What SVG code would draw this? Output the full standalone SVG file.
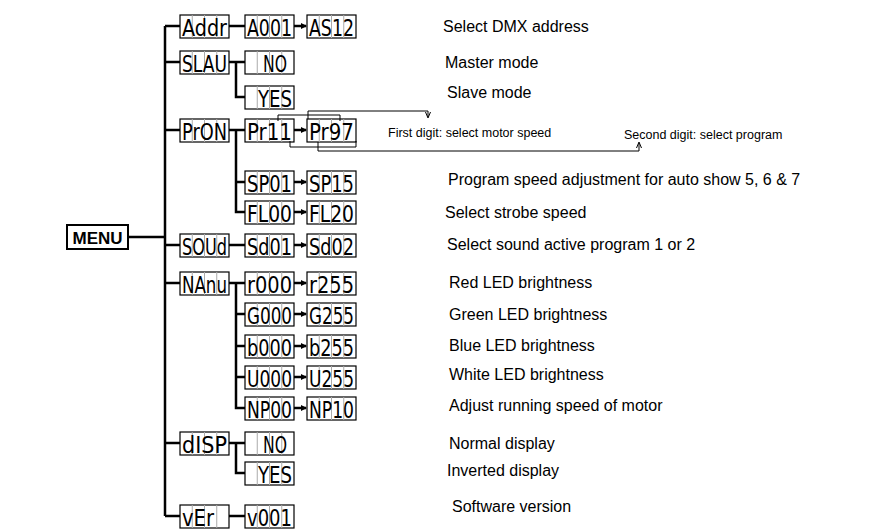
<svg xmlns="http://www.w3.org/2000/svg" width="878" height="532" viewBox="0 0 878 532">
<style>
.b text{font-family:"DejaVu Sans Condensed","DejaVu Sans",sans-serif;font-weight:normal;font-size:23px;text-anchor:middle}
.c{stroke:#000;stroke-width:2.5;fill:none}
.t{stroke:#000;stroke-width:1;fill:none}
.l{font-family:"Liberation Sans",Arial,sans-serif;font-size:16px}
.s{font-family:"Liberation Sans",Arial,sans-serif;font-size:12.5px}
</style>
<defs>
<marker id="a" markerWidth="6" markerHeight="6" refX="5" refY="3" orient="auto" markerUnits="userSpaceOnUse"><path d="M0,0L6,3L0,6z"/></marker>
<marker id="sa" markerWidth="6" markerHeight="6" refX="5" refY="3" orient="auto" markerUnits="userSpaceOnUse"><path d="M0,0.5L6,3L0,5.5" fill="none" stroke="#000"/></marker>
<symbol id="cells" overflow="visible"><rect x="0" y="0" width="49" height="23" fill="#fff" stroke="#000" stroke-width="1.2"/><path d="M12.25,0V23M24.5,0V23M36.75,0V23" stroke="#aaa" stroke-width="1"/></symbol>
</defs>
<g id="menu"><rect x="67" y="225" width="61" height="24" fill="#fff" stroke="#000" stroke-width="2"/><text x="97.5" y="244" font-family="Liberation Sans,Arial,sans-serif" font-weight="bold" font-size="17" text-anchor="middle">MENU</text></g>
<g class="b">
<g id="addr" transform="translate(180,15)"><use href="#cells"/><text x="24.5" y="20.5" textLength="45" lengthAdjust="spacingAndGlyphs">Addr</text></g>
<g id="a001" transform="translate(245,15)"><use href="#cells"/><text x="24.5" y="20.5" textLength="45" lengthAdjust="spacingAndGlyphs">A001</text></g>
<g id="as12" transform="translate(307,15)"><use href="#cells"/><text x="24.5" y="20.5" textLength="45" lengthAdjust="spacingAndGlyphs">AS12</text></g>
<g id="slau" transform="translate(180,51)"><use href="#cells"/><text x="24.5" y="20.5" textLength="45" lengthAdjust="spacingAndGlyphs">SLAU</text></g>
<g id="no1" transform="translate(245,51)"><use href="#cells"/><text x="30" y="20.5" textLength="24" lengthAdjust="spacingAndGlyphs">NO</text></g>
<g id="yes1" transform="translate(245,86)"><use href="#cells"/><text x="30" y="20.5" textLength="34" lengthAdjust="spacingAndGlyphs">YES</text></g>
<g id="pron" transform="translate(180,119)"><use href="#cells"/><text x="24.5" y="20.5" textLength="45" lengthAdjust="spacingAndGlyphs">PrON</text></g>
<g id="pr11" transform="translate(245,119)"><use href="#cells"/><text x="24.5" y="20.5" textLength="45" lengthAdjust="spacingAndGlyphs">Pr11</text></g>
<g id="pr97" transform="translate(307,119)"><use href="#cells"/><text x="24.5" y="20.5" textLength="45" lengthAdjust="spacingAndGlyphs">Pr97</text></g>
<g id="sp01" transform="translate(245,171)"><use href="#cells"/><text x="24.5" y="20.5" textLength="45" lengthAdjust="spacingAndGlyphs">SP01</text></g>
<g id="sp15" transform="translate(307,171)"><use href="#cells"/><text x="24.5" y="20.5" textLength="45" lengthAdjust="spacingAndGlyphs">SP15</text></g>
<g id="fl00" transform="translate(245,201)"><use href="#cells"/><text x="24.5" y="20.5" textLength="45" lengthAdjust="spacingAndGlyphs">FL00</text></g>
<g id="fl20" transform="translate(307,201)"><use href="#cells"/><text x="24.5" y="20.5" textLength="45" lengthAdjust="spacingAndGlyphs">FL20</text></g>
<g id="soud" transform="translate(180,234)"><use href="#cells"/><text x="24.5" y="20.5" textLength="45" lengthAdjust="spacingAndGlyphs">SOUd</text></g>
<g id="sd01" transform="translate(245,234)"><use href="#cells"/><text x="24.5" y="20.5" textLength="45" lengthAdjust="spacingAndGlyphs">Sd01</text></g>
<g id="sd02" transform="translate(307,234)"><use href="#cells"/><text x="24.5" y="20.5" textLength="45" lengthAdjust="spacingAndGlyphs">Sd02</text></g>
<g id="nanu" transform="translate(180,272)"><use href="#cells"/><text x="24.5" y="20.5" textLength="45" lengthAdjust="spacingAndGlyphs">NAnu</text></g>
<g id="r000" transform="translate(245,272)"><use href="#cells"/><text x="24.5" y="20.5" textLength="45" lengthAdjust="spacingAndGlyphs">r000</text></g>
<g id="r255" transform="translate(307,272)"><use href="#cells"/><text x="24.5" y="20.5" textLength="45" lengthAdjust="spacingAndGlyphs">r255</text></g>
<g id="g000" transform="translate(245,303)"><use href="#cells"/><text x="24.5" y="20.5" textLength="45" lengthAdjust="spacingAndGlyphs">G000</text></g>
<g id="g255" transform="translate(307,303)"><use href="#cells"/><text x="24.5" y="20.5" textLength="45" lengthAdjust="spacingAndGlyphs">G255</text></g>
<g id="b000" transform="translate(245,335)"><use href="#cells"/><text x="24.5" y="20.5" textLength="45" lengthAdjust="spacingAndGlyphs">b000</text></g>
<g id="b255" transform="translate(307,335)"><use href="#cells"/><text x="24.5" y="20.5" textLength="45" lengthAdjust="spacingAndGlyphs">b255</text></g>
<g id="u000" transform="translate(245,366)"><use href="#cells"/><text x="24.5" y="20.5" textLength="45" lengthAdjust="spacingAndGlyphs">U000</text></g>
<g id="u255" transform="translate(307,366)"><use href="#cells"/><text x="24.5" y="20.5" textLength="45" lengthAdjust="spacingAndGlyphs">U255</text></g>
<g id="np00" transform="translate(245,397)"><use href="#cells"/><text x="24.5" y="20.5" textLength="45" lengthAdjust="spacingAndGlyphs">NP00</text></g>
<g id="np10" transform="translate(307,397)"><use href="#cells"/><text x="24.5" y="20.5" textLength="45" lengthAdjust="spacingAndGlyphs">NP10</text></g>
<g id="disp" transform="translate(180,432)"><use href="#cells"/><text x="24.5" y="20.5" textLength="45" lengthAdjust="spacingAndGlyphs">dISP</text></g>
<g id="no2" transform="translate(245,432)"><use href="#cells"/><text x="30" y="20.5" textLength="24" lengthAdjust="spacingAndGlyphs">NO</text></g>
<g id="yes2" transform="translate(245,462)"><use href="#cells"/><text x="30" y="20.5" textLength="34" lengthAdjust="spacingAndGlyphs">YES</text></g>
<g id="ver" transform="translate(180,505)"><use href="#cells"/><text x="18" y="20.5" textLength="32" lengthAdjust="spacingAndGlyphs">vEr</text></g>
<g id="v001" transform="translate(245,505)"><use href="#cells"/><text x="24.5" y="20.5" textLength="45" lengthAdjust="spacingAndGlyphs">v001</text></g>
</g>
<g id="connectors">
<path class="c" d="M128,237H165M165,26V516M165,26H180M165,62H180M165,130H180M165,245H180M165,283H180M165,443H180M165,516H180"/>
<path class="c" d="M229,26H245M229,62H245M236,62V97H245M229,130H245M236,130V212H245M236,182H245M229,245H245M229,283H245M236,283V408H245M236,314H245M236,346H245M236,377H245M229,443H245M236,443V473H245M229,516H245"/>
<g marker-end="url(#a)"><path class="c" d="M294,26H306"/><path class="c" d="M294,130H306"/><path class="c" d="M294,182H306"/><path class="c" d="M294,212H306"/><path class="c" d="M294,245H306"/><path class="c" d="M294,283H306"/><path class="c" d="M294,314H306"/><path class="c" d="M294,346H306"/><path class="c" d="M294,377H306"/><path class="c" d="M294,408H306"/></g>
<path class="t" d="M278,121V115H340V121M290,141V147H356V141"/>
<path class="t" d="M308,119V111H428V117" marker-end="url(#sa)"/>
<path class="t" d="M318,142V151H639V143" marker-end="url(#sa)"/>
</g>
<g id="labels">
<text class="l" x="443" y="32">Select DMX address</text>
<text class="l" x="445" y="68">Master mode</text>
<text class="l" x="447" y="98">Slave mode</text>
<text class="s" x="388" y="137">First digit: select motor speed</text>
<text class="s" x="624" y="139">Second digit: select program</text>
<text class="l" x="448" y="185">Program speed adjustment for auto show 5, 6 &amp; 7</text>
<text class="l" x="445" y="218">Select strobe speed</text>
<text class="l" x="447" y="250">Select sound active program 1 or 2</text>
<text class="l" x="449" y="288">Red LED brightness</text>
<text class="l" x="449" y="320">Green LED brightness</text>
<text class="l" x="449" y="351">Blue LED brightness</text>
<text class="l" x="449" y="380">White LED brightness</text>
<text class="l" x="449" y="411">Adjust running speed of motor</text>
<text class="l" x="449" y="449">Normal display</text>
<text class="l" x="447" y="476">Inverted display</text>
<text class="l" x="452" y="512">Software version</text>
</g>
</svg>
